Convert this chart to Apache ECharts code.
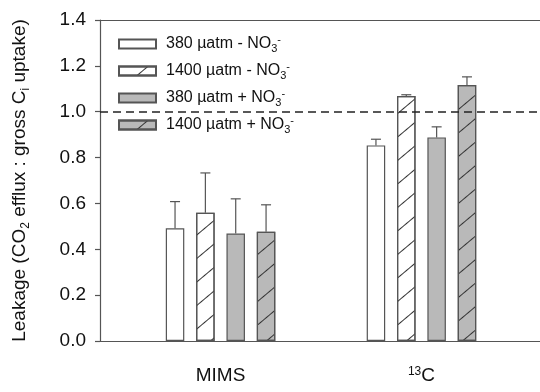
<!DOCTYPE html>
<html>
<head>
<meta charset="utf-8">
<script src="https://cdn.jsdelivr.net/npm/echarts@6/dist/echarts.min.js"></script>
<style>
  html, body { margin: 0; padding: 0; background: #fff; }
  #chart { width: 540px; height: 392px; }
</style>
</head>
<body>
<div id="chart"></div>
<script>
// groups on the x axis (value positions 1 and 2)
const categories = ['MIMS', '13C']
const catPos = [1, 2]
const seriesNames = [
  '380 µatm - NO3-',
  '1400 µatm - NO3-',
  '380 µatm + NO3-',
  '1400 µatm + NO3-',
]
// bar heights, one array per treatment: [MIMS, 13C]
const lowMinus = [0.492, 0.853]
const highMinus = [0.559, 1.068]
const lowPlus = [0.469, 0.888]
const highPlus = [0.476, 1.116]
// upper error bar lengths
const lowMinusErr = [0.116, 0.027]
const highMinusErr = [0.174, 0.006]
const lowPlusErr = [0.151, 0.046]
const highPlusErr = [0.118, 0.036]
const yTicks = [0, 0.2, 0.4, 0.6, 0.8, 1.0, 1.2, 1.4]
const refLine = 1.0

const means = [lowMinus, highMinus, lowPlus, highPlus]
const errs = [lowMinusErr, highMinusErr, lowPlusErr, highPlusErr]

const font = 'Liberation Sans, Arial, sans-serif'
const barW = 18.5
const barGap = 0.64
const step = barW * (1 + barGap)
const hatched = [false, true, false, true]
const fills = ['#ffffff', '#ffffff', '#b9b9b9', '#b9b9b9']

const hatch = {
  symbol: 'rect',
  symbolSize: 1,
  color: '#333',
  dashArrayX: [1, 0],
  dashArrayY: [1, 17],
  rotation: -Math.PI / 4.5,
}

const barSeries = seriesNames.map((name, i) => ({
  name,
  type: 'bar',
  barWidth: barW,
  barGap: barGap * 100 + '%',
  data: catPos.map((x, j) => [x, means[i][j]]),
  itemStyle: {
    color: fills[i],
    borderColor: '#555',
    borderWidth: 1.2,
    decal: hatched[i] ? hatch : undefined,
  },
  emphasis: { disabled: true },
  markLine: i === 0 ? {
    silent: true,
    symbol: 'none',
    label: { show: false },
    lineStyle: { color: '#222', type: [8, 5], width: 1.5 },
    data: [{ yAxis: refLine }],
  } : undefined,
}))

const errData = []
seriesNames.forEach((n, i) => {
  catPos.forEach((x, j) => errData.push([x, means[i][j], errs[i][j], i]))
})

const chart = echarts.init(document.getElementById('chart'), null, { renderer: 'canvas' })
chart.setOption({
  animation: false,
  backgroundColor: '#fff',
  aria: { decal: { show: false } },
  grid: { left: 96, right: 0, top: 20, bottom: 51 },
  legend: {
    data: seriesNames,
    orient: 'vertical',
    left: 113,
    top: 29,
    itemWidth: 37,
    itemHeight: 9,
    itemGap: 7,
    icon: 'rect',
    formatter: name => name.replace('NO3-', 'NO{sub|3}{sup|-}'),
    textStyle: {
      fontFamily: font,
      fontSize: 16,
      color: '#111',
      lineHeight: 20,
      padding: [0, 0, 0, 5],
      rich: {
        sub: { fontFamily: font, fontSize: 11, lineHeight: 11, verticalAlign: 'bottom', color: '#111' },
        sup: { fontFamily: font, fontSize: 11, lineHeight: 11, verticalAlign: 'top', color: '#111' },
      },
    },
  },
  xAxis: [
    {
      type: 'value',
      min: 0.4,
      max: 2.59,
      splitLine: { show: false },
      axisLine: { show: true, lineStyle: { color: '#555', width: 1.2 } },
      axisTick: { show: false },
      axisLabel: {
        customValues: catPos,
        margin: 25,
        fontFamily: font,
        fontSize: 19,
        color: '#111',
        formatter: v => {
          const name = categories[catPos.indexOf(v)]
          return name === '13C' ? '{sup|13}C' : name
        },
        rich: {
          sup: { fontFamily: font, fontSize: 12, verticalAlign: 'top', lineHeight: 12, color: '#111' },
        },
      },
    },
    {
      type: 'value',
      position: 'top',
      min: 0.4,
      max: 2.59,
      splitLine: { show: false },
      axisLine: { show: true, onZero: false, lineStyle: { color: '#555', width: 1.2 } },
      axisTick: { show: false },
      axisLabel: { show: false },
    },
  ],
  yAxis: {
    type: 'value',
    min: yTicks[0],
    max: yTicks[yTicks.length - 1],
    interval: 0.2,
    splitLine: { show: false },
    axisLine: { show: true, lineStyle: { color: '#555', width: 1.2 } },
    axisTick: { show: true, length: 5, lineStyle: { color: '#555', width: 1.2 } },
    axisLabel: {
      margin: 14,
      fontFamily: font,
      fontSize: 19,
      color: '#111',
      formatter: v => v.toFixed(1),
    },
    name: 'Leakage (CO{sub|2} efflux : gross C{sub|i} uptake)',
    nameLocation: 'middle',
    nameGap: 68,
    nameTextStyle: {
      fontFamily: font,
      fontSize: 19,
      color: '#111',
      lineHeight: 24,
      rich: {
        sub: { fontFamily: font, fontSize: 12, lineHeight: 12, verticalAlign: 'bottom', color: '#111' },
      },
    },
  },
  series: [
    ...barSeries,
    {
      name: 'error',
      type: 'custom',
      silent: true,
      z: 5,
      data: errData,
      renderItem: (params, api) => {
        const base = api.coord([api.value(0), api.value(1)])
        const top = api.coord([api.value(0), api.value(1) + api.value(2)])
        const x = base[0] + (api.value(3) - 1.5) * step
        const st = { stroke: '#555', lineWidth: 1.2 }
        return {
          type: 'group',
          children: [
            { type: 'line', shape: { x1: x, y1: base[1], x2: x, y2: top[1] }, style: st },
            { type: 'line', shape: { x1: x - 5, y1: top[1], x2: x + 5, y2: top[1] }, style: st },
          ],
        }
      },
    },
  ],
})
</script>
</body>
</html>
